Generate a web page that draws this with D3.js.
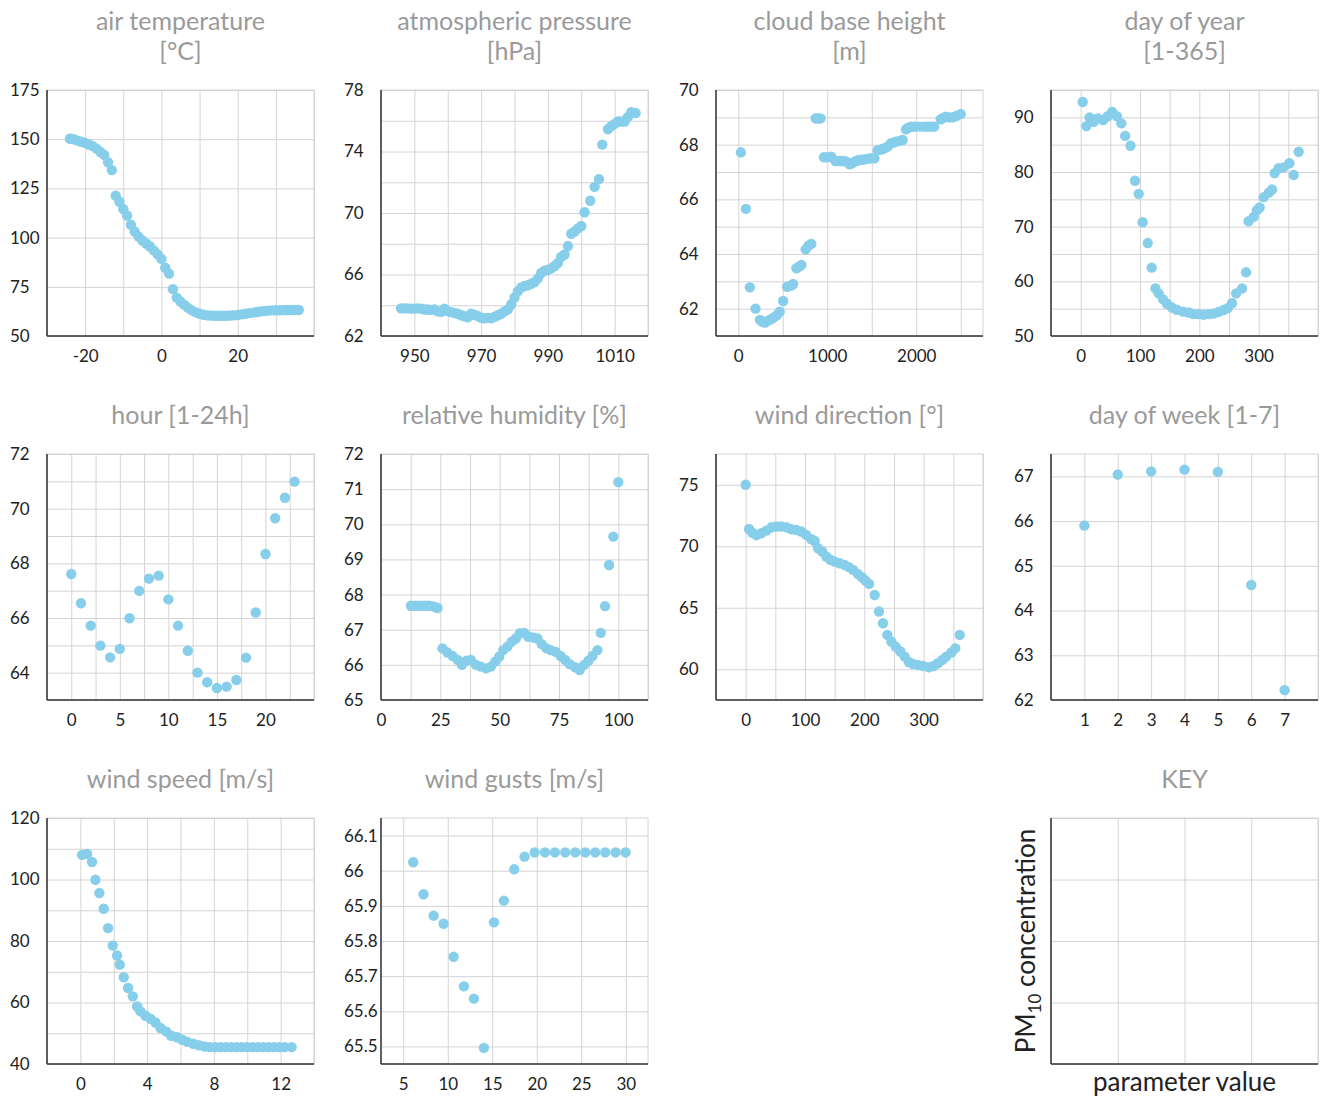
<!DOCTYPE html>
<html>
<head>
<meta charset="utf-8">
<style>
  body { margin: 0; background: #fff; }
  svg { display: block; font-family: Lato, "Noto Sans", sans-serif; }
  .title { font-size: 25px; fill: #9a9a9a; font-weight: 400; text-anchor: middle; }
  .ticks text { font-size: 17px; fill: #222; font-family: Lato, "Noto Sans", sans-serif; }
  .grid line { stroke: #d4d4d4; stroke-width: 1px; }
  .frame { fill: none; stroke: #d4d4d4; stroke-width: 1px; }
  .axis-line { stroke: #333; stroke-width: 1.5px; }
  circle.dot { fill: #87ceeb; }
  .key-label { font-size: 26px; fill: #222; text-anchor: middle; }
</style>
<script src="https://d3js.org/d3.v7.min.js"></script>
</head>
<body>
<svg id="chart" width="1324" height="1099"></svg>
<script>
// values, one x/y list per parameter

const airTempX = [-24,-23,-22,-21,-20,-19,-18,-17,-16,-15,-14,-13,-12,-11,-10,-9,-8,-7,-6,-5,-4,-3,-2,-1,0,1,2,3,4,5,6,7,8,9,10,11,12,13,14,15,16,17,18,19,20,21,22,23,24,25,26,27,28,29,30,31,32,33,34,35,36];
const airTempY = [150.2,150,149.3,148.7,148.1,147.3,146.5,145.2,143.5,142,138.3,134.3,121.3,118.2,114.5,111.2,106.5,103,100.5,98.5,97,95.5,93.5,91.5,89.2,84.7,81.7,73.8,69.5,67.5,65.8,64.3,63,62,61.3,60.8,60.5,60.4,60.3,60.3,60.3,60.3,60.4,60.5,60.7,61,61.3,61.6,61.9,62.2,62.5,62.7,62.9,63,63.1,63.1,63.2,63.2,63.2,63.2,63.2];

const pressureX = [946,947,948,949,950,951,952,953,954,955,956,957,958,959,960,961,962,963,964,965,966,967,968,969,970,971,972,973,974,975,976,977,978,979,980,981,982,983,984,985,986,987,988,989,990,991,992,993,994,995,996,997,998,999,1000,1001,1002.7,1004,1005.3,1006.3,1008,1009,1010,1011,1012,1013,1014,1015,1016.3];
const pressureY = [63.8,63.8,63.8,63.78,63.78,63.8,63.78,63.72,63.72,63.7,63.72,63.6,63.58,63.78,63.62,63.55,63.5,63.45,63.35,63.28,63.22,63.45,63.38,63.3,63.18,63.15,63.18,63.15,63.25,63.35,63.45,63.6,63.72,64.05,64.5,64.9,65.15,65.25,65.3,65.4,65.5,65.75,66.1,66.25,66.3,66.4,66.55,66.75,67.15,67.3,67.85,68.65,68.8,69.0,69.15,70.05,70.8,71.7,72.2,74.45,75.45,75.65,75.8,75.95,75.95,75.95,76.25,76.55,76.5];

const cloudX = [30,86,130,194,243,270,300,336,370,400,437,466,504,549,600,616,653,690,709,757,790,821,869,900,925,963,1000,1045,1093,1130,1157,1190,1213,1250,1280,1306,1340,1362,1390,1418,1450,1474,1500,1530,1567,1600,1623,1650,1679,1716,1750,1772,1810,1847,1884,1910,1940,1965,1989,2040,2090,2120,2146,2175,2201,2276,2305,2332,2370,2407,2450,2500];
const cloudY = [67.72,65.65,62.78,62.0,61.59,61.52,61.49,61.56,61.62,61.68,61.77,61.89,62.28,62.8,62.85,62.9,63.48,63.55,63.6,64.17,64.3,64.37,68.96,68.96,68.96,67.54,67.54,67.56,67.4,67.4,67.4,67.4,67.38,67.28,67.32,67.38,67.42,67.44,67.45,67.46,67.48,67.5,67.5,67.5,67.8,67.82,67.84,67.88,67.93,68.05,68.08,68.11,68.14,68.17,68.56,68.62,68.66,68.66,68.66,68.66,68.66,68.66,68.66,68.66,68.66,68.93,68.98,69.02,69.0,69.0,69.05,69.12];

const dayYearX = [3.4,9.6,15,22,29,38,45.5,53,61,68.5,75,84,91.6,97.8,104.5,113,119.7,126,131.5,139,145.5,154,162,172.5,182,190,199,207,216,224,232.6,241,248,255,262,272,278.7,283,291.6,297,301.7,308.4,317,322.5,327,333.7,342,351.7,359,367.4];
const dayYearY = [92.8,88.4,90,89.2,89.8,89.5,90.2,91,90.2,88.9,86.6,84.8,78.4,76.0,70.8,67,62.5,58.7,57.8,56.7,55.9,55.2,54.8,54.45,54.3,54.0,54.0,53.9,54.0,54.1,54.4,54.75,55.1,56,57.8,58.7,61.65,71.0,71.8,73.0,73.5,75.4,76.2,76.8,79.8,80.7,80.85,81.6,79.45,83.7];

const hourX = [0,1,2,3,4,5,6,7,8,9,10,11,12,13,14,15,16,17,18,19,20,21,22,23];
const hourY = [67.61,66.54,65.72,64.99,64.56,64.87,65.99,66.99,67.44,67.55,66.68,65.72,64.8,64.0,63.65,63.44,63.49,63.73,64.55,66.2,68.34,69.65,70.4,70.99];

const humidityX = [12.6,14,15.5,17,18.5,20,21.5,23,23.8,25.9,28,30.2,32.3,34.1,36,37.9,40,42,44.2,46.3,48.1,49.8,51.5,53.3,55.1,56.8,58.5,60.3,62.1,64.1,65.9,67.7,69.7,71.5,73.6,75.7,77.6,79.5,81.8,83.7,85.6,87.4,89.1,91.2,92.6,94.4,96.1,97.9,100];
const humidityY = [67.68,67.68,67.68,67.68,67.68,67.68,67.67,67.64,67.62,66.47,66.35,66.25,66.14,66.0,66.12,66.14,66.0,65.95,65.9,65.95,66.09,66.23,66.42,66.52,66.66,66.75,66.9,66.91,66.8,66.78,66.75,66.59,66.47,66.42,66.37,66.25,66.14,66.02,65.93,65.85,66.0,66.12,66.25,66.42,66.91,67.67,68.84,69.65,71.2];

const windDirX = [0,5.6,11.2,18,26.4,34.8,43.3,51.7,60,68.5,77,85.4,93.8,102,110.7,116.3,122,129,136,142.7,150,158.4,166.9,174,181,189,196,202,208,217.4,224.7,231.5,238.8,245.5,252.8,260.7,268,275.3,282,290.4,298.9,309,316.9,324,331.5,338,346.6,353.4,360.7];
const windDirY = [75.0,71.4,71.1,70.9,71.06,71.27,71.54,71.6,71.6,71.54,71.38,71.33,71.2,70.92,70.57,70.43,69.84,69.57,69.16,68.9,68.75,68.62,68.48,68.3,68.08,67.75,67.48,67.2,66.94,66.04,64.69,63.74,62.79,62.25,61.84,61.44,61.03,60.57,60.43,60.35,60.27,60.16,60.27,60.49,60.76,61.03,61.36,61.7,62.79];

const dayWeekX = [1,2,3,4,5,6,7];
const dayWeekY = [65.9,67.04,67.11,67.15,67.1,64.57,62.22];

const windSpeedX = [0.1,0.4,0.7,0.9,1.14,1.4,1.66,1.94,2.2,2.36,2.6,2.86,3.14,3.4,3.6,3.9,4.2,4.5,4.8,5.14,5.44,5.8,6.1,6.4,6.76,7.1,7.44,7.76,8.08,8.4,8.72,9.04,9.36,9.68,10.0,10.32,10.64,10.96,11.28,11.6,11.92,12.24,12.66];
const windSpeedY = [108.0,108.3,105.7,99.9,95.6,90.5,84.2,78.5,75.3,72.3,68.2,64.7,62.0,58.7,57.1,55.7,54.7,53.5,51.7,50.6,49.2,48.7,47.9,47.2,46.6,46.1,45.7,45.5,45.5,45.5,45.5,45.5,45.5,45.5,45.5,45.5,45.5,45.5,45.5,45.5,45.5,45.5,45.5];

const gustsX = [6.12,7.28,8.41,9.53,10.66,11.82,12.94,14.06,15.19,16.31,17.47,18.63,19.76,20.92,22.04,23.2,24.33,25.45,26.57,27.7,28.86,29.98];
const gustsY = [66.024,65.933,65.872,65.849,65.755,65.671,65.636,65.496,65.853,65.915,66.004,66.04,66.052,66.052,66.052,66.052,66.052,66.052,66.052,66.052,66.052,66.052];

// panel settings: title, domains, grid step, labelled ticks
const panels = [
  {title: ["air temperature", "[°C]"], x: airTempX, y: airTempY, xDomain: [-30, 40], xStep: 10, xTicks: [-20, 0, 20], yDomain: [50, 175], yStep: 25, yTicks: [50, 75, 100, 125, 150, 175]},
  {title: ["atmospheric pressure", "[hPa]"], x: pressureX, y: pressureY, xDomain: [940, 1020], xStep: 10, xTicks: [950, 970, 990, 1010], yDomain: [62, 78], yStep: 2, yTicks: [62, 66, 70, 74, 78]},
  {title: ["cloud base height", "[m]"], x: cloudX, y: cloudY, xDomain: [-250, 2750], xStep: 500, xTicks: [0, 1000, 2000], yDomain: [61, 70], yStep: 1, yTicks: [62, 64, 66, 68, 70]},
  {title: ["day of year", "[1-365]"], x: dayYearX, y: dayYearY, xDomain: [-50, 400], xStep: 50, xTicks: [0, 100, 200, 300], yDomain: [50, 95], yStep: 5, yTicks: [50, 60, 70, 80, 90]},
  {title: ["hour [1-24h]"], x: hourX, y: hourY, xDomain: [-2.5, 25], xStep: 2.5, xTicks: [0, 5, 10, 15, 20], yDomain: [63, 72], yStep: 1, yTicks: [64, 66, 68, 70, 72]},
  {title: ["relative humidity [%]"], x: humidityX, y: humidityY, xDomain: [0, 112.5], xStep: 12.5, xTicks: [0, 25, 50, 75, 100], yDomain: [65, 72], yStep: 1, yTicks: [65, 66, 67, 68, 69, 70, 71, 72]},
  {title: ["wind direction [°]"], x: windDirX, y: windDirY, xDomain: [-50, 400], xStep: 50, xTicks: [0, 100, 200, 300], yDomain: [57.5, 77.5], yStep: 5, yTicks: [60, 65, 70, 75]},
  {title: ["day of week [1-7]"], x: dayWeekX, y: dayWeekY, xDomain: [0, 8], xStep: 1, xTicks: [1, 2, 3, 4, 5, 6, 7], yDomain: [62, 67.5], yStep: 1, yTicks: [62, 63, 64, 65, 66, 67]},
  {title: ["wind speed [m/s]"], x: windSpeedX, y: windSpeedY, xDomain: [-2, 14], xStep: 2, xTicks: [0, 4, 8, 12], yDomain: [40, 120], yStep: 10, yTicks: [40, 60, 80, 100, 120]},
  {title: ["wind gusts [m/s]"], x: gustsX, y: gustsY, xDomain: [2.5, 32.5], xStep: 5, xTicks: [5, 10, 15, 20, 25, 30], yDomain: [65.45, 66.15], yStep: 0.1, yTicks: [65.5, 65.6, 65.7, 65.8, 65.9, 66, 66.1]},
  null,
  {title: ["KEY"], x: [], y: [], xDomain: [0, 4], xStep: 1, xTicks: [], yDomain: [0, 4], yStep: 1, yTicks: [], key: true}
];

const W = 267, H = 246;
const colX = [47, 381, 716, 1051];
const rowY = [90, 454, 818];

const svg = d3.select("#chart");

function gridValues(domain, step) {
  const lo = Math.ceil(domain[0] / step - 1e-9) * step;
  return d3.range(lo, domain[1] + step * 1e-6, step).map(v => Math.round(v * 1e4) / 1e4);
}

panels.forEach((p, i) => {
  if (!p) return;
  const g = svg.append("g")
    .attr("transform", `translate(${colX[i % 4]},${rowY[Math.floor(i / 4)]})`);

  const x = d3.scaleLinear().domain(p.xDomain).range([0, W]);
  const y = d3.scaleLinear().domain(p.yDomain).range([H, 0]);

  g.append("rect").attr("class", "frame").attr("width", W).attr("height", H);

  // grid lines
  g.append("g").attr("class", "grid")
    .attr("transform", `translate(0,${H})`)
    .call(d3.axisBottom(x).tickValues(gridValues(p.xDomain, p.xStep)).tickSize(-H).tickFormat(""))
    .call(s => s.select(".domain").remove());
  g.append("g").attr("class", "grid")
    .call(d3.axisLeft(y).tickValues(gridValues(p.yDomain, p.yStep)).tickSize(-W).tickFormat(""))
    .call(s => s.select(".domain").remove());

  // tick labels
  g.append("g").attr("class", "ticks")
    .attr("transform", `translate(0,${H})`)
    .call(d3.axisBottom(x).tickValues(p.xTicks).tickSize(0).tickFormat(d => String(d)))
    .call(s => s.select(".domain").remove())
    .selectAll("text").attr("y", 20).attr("dy", "0.35em");
  g.append("g").attr("class", "ticks")
    .call(d3.axisLeft(y).tickValues(p.yTicks).tickSize(0).tickFormat(d => String(d)))
    .call(s => s.select(".domain").remove())
    .selectAll("text").attr("x", -37).attr("text-anchor", "start");

  // axis lines
  g.append("line").attr("class", "axis-line").attr("x1", 0).attr("x2", 0).attr("y1", 0).attr("y2", H);
  g.append("line").attr("class", "axis-line").attr("x1", 0).attr("x2", W).attr("y1", H).attr("y2", H);

  g.selectAll("circle.dot")
    .data(d3.zip(p.x, p.y))
    .join("circle")
    .attr("class", "dot")
    .attr("cx", d => x(d[0]))
    .attr("cy", d => y(d[1]))
    .attr("r", 5.2);

  // title, one or two lines
  const t = g.append("text").attr("class", "title");
  p.title.forEach((line, k) => {
    t.append("tspan")
      .attr("x", W / 2)
      .attr("y", -30 - (p.title.length - 1 - k) * 30)
      .text(line);
  });

  if (p.key) {
    const yl = g.append("text").attr("class", "key-label")
      .attr("transform", `translate(-16,${H / 2}) rotate(-90)`);
    yl.append("tspan").text("PM");
    yl.append("tspan").attr("font-size", "17px").attr("dy", 6).text("10");
    yl.append("tspan").attr("dy", -6).text(" concentration");

    g.append("text").attr("class", "key-label")
      .attr("x", W / 2).attr("y", H + 27)
      .text("parameter value");
  }
});
</script>
</body>
</html>
